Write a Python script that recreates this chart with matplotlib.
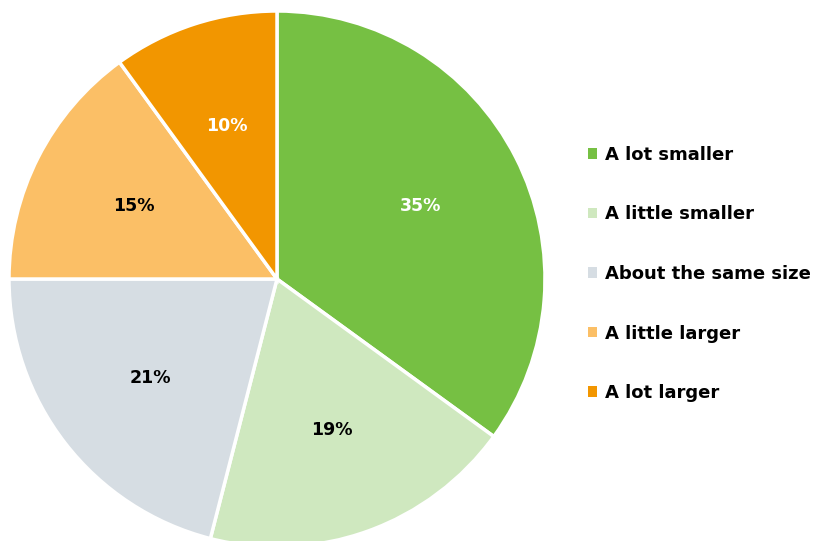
import matplotlib
matplotlib.use("Agg")
import matplotlib.pyplot as plt
from matplotlib.patches import Patch

categories = ["A lot smaller", "A little smaller", "About the same size",
              "A little larger", "A lot larger"]
shares = [35, 19, 21, 15, 10]
colors = ["#76C043", "#CFE8BF", "#D6DDE3", "#FBBF66", "#F29600"]
label_colors = ["white", "black", "black", "black", "white"]

fig = plt.figure(figsize=(8.21, 5.41), dpi=100)
W, H = 821, 541
cx, cy, r = 277, 279, 268
ax = fig.add_axes([(cx - r) / W, (H - cy - r) / H, 2 * r / W, 2 * r / H])

wedges, texts, autotexts = ax.pie(
    shares, colors=colors, startangle=90, counterclock=False,
    autopct="%d%%", pctdistance=0.6,
    wedgeprops=dict(edgecolor="white", linewidth=2.5),
    textprops=dict(fontsize=12.5, fontweight="bold", family="DejaVu Sans"),
)
for t, c in zip(autotexts, label_colors):
    t.set_color(c)
ax.set_xlim(-1.0, 1.0)
ax.set_ylim(-1.0, 1.0)
ax.set_aspect("equal")

handles = [Patch(facecolor=c, edgecolor="none") for c in colors]
fig.legend(handles, categories, loc="center left",
           bbox_to_anchor=(572 / W, (H - 274) / H),
           frameon=False, handlelength=0.5, handleheight=0.5,
           handletextpad=0.45, labelspacing=2.3,
           prop=dict(family="DejaVu Sans", weight="bold", size=13))

fig.savefig("out.png", dpi=100)
